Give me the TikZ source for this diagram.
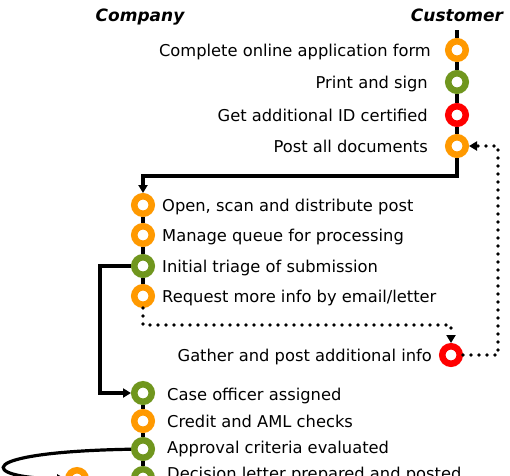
\documentclass[tikz,border=0pt]{standalone}
\usepackage{fontspec}
\setmainfont{DejaVu Sans}
\usetikzlibrary{arrows.meta}
\definecolor{stepOrange}{RGB}{255,153,0}
\definecolor{stepGreen}{RGB}{112,150,30}
\definecolor{stepRed}{RGB}{255,0,0}

\begin{document}
\begin{tikzpicture}[x=1pt, y=-1pt, every node/.style={font=\fontsize{16.3}{19}\selectfont},
		ring/.style={circle, draw=#1, fill=white, line width=6.5pt, minimum size=17.5pt, inner sep=0pt, outer sep=3.25pt},
		lbl/.style={inner sep=0pt, text height=12pt, text depth=0pt},
		headtext/.style={inner sep=0pt, anchor=base, font=\fontsize{17}{20}\selectfont\bfseries\itshape},
		flow/.style={line width=3.2pt},
		dotline/.style={line width=3.6pt, line cap=round, dash pattern=on 0pt off 8pt},
		arr/.style={-{Triangle[length=8pt,width=9pt]}}]
			\useasboundingbox (0,0) rectangle (510,475);
			\clip (0,0) rectangle (510,475);

			\node[headtext] (company) at (140,21) {Company};
			\node[headtext] (customer) at (457,21) {Customer};

			\node[ring=stepOrange] (c1) at (457,50) {};
			\node[ring=stepGreen] (c2) at (457,82) {};
			\node[ring=stepRed] (c3) at (457,115) {};
			\node[ring=stepOrange] (c4) at (457,146) {};
			\node[lbl, anchor=east] (t1) at (431,50) {Complete online application form};
			\node[lbl, anchor=east] (t2) at (428,82) {Print and sign};
			\node[lbl, anchor=east] (t3) at (428,115) {Get additional ID certified};
			\node[lbl, anchor=east] (t4) at (428,146) {Post all documents};

			\node[ring=stepOrange] (o1) at (143,205) {};
			\node[ring=stepOrange] (o2) at (143,235) {};
			\node[ring=stepGreen] (o3) at (143,266) {};
			\node[ring=stepOrange] (o4) at (143,296) {};
			\node[lbl, anchor=west] (s1) at (162,205) {Open, scan and distribute post};
			\node[lbl, anchor=west] (s2) at (162,235) {Manage queue for processing};
			\node[lbl, anchor=west] (s3) at (162,266) {Initial triage of submission};
			\node[lbl, anchor=west] (s4) at (162,296) {Request more info by email/letter};

			\node[ring=stepRed] (gather) at (451,355) {};
			\node[lbl, anchor=east] (tg) at (432,355) {Gather and post additional info};

			\node[ring=stepGreen] (b1) at (143,393) {};
			\node[ring=stepOrange] (b2) at (143,421) {};
			\node[ring=stepGreen] (b3) at (143,449) {};
			\node[ring=stepGreen] (b4) at (143,478) {};
			\node[ring=stepOrange] (side) at (77,479) {};
			\node[lbl, anchor=west] (u1) at (167,394) {Case officer assigned};
			\node[lbl, anchor=west] (u2) at (167,421) {Credit and AML checks};
			\node[lbl, anchor=west] (u3) at (167,447) {Approval criteria evaluated};
			\node[lbl, anchor=west] (u4) at (167,473) {Decision letter prepared and posted};

			\coordinate (ctop) at (457,30);
			\coordinate (cturn) at (457,176);
			\coordinate (oturn) at (143,176);
			\coordinate (tl) at (100,266);
			\coordinate (bl) at (100,393);
			\coordinate (d1) at (143,325);
			\coordinate (d2) at (451,325);
			\coordinate (d3) at (498,355);
			\coordinate (d4) at (498,146);

			\draw[flow] (ctop)--(c1);
			\draw[flow] (c1)--(c2);
			\draw[flow] (c2)--(c3);
			\draw[flow] (c3)--(c4);
			\draw[flow, arr] (c4)--(cturn)--(oturn)--(o1);
			\draw[flow] (o1)--(o2);
			\draw[flow] (o2)--(o3);
			\draw[flow] (o3)--(o4);
			\draw[flow, arr] (o3)--(tl)--(bl)--(b1);
			\draw[dotline, arr] (o4)--(d1)--(d2)--(gather);
			\draw[dotline, arr] (gather)--(d3)--(d4)--(c4);
			\draw[flow] (b1)--(b2);
			\draw[flow] (b2)--(b3);
			\draw[flow] (b3)--(b4);
			\draw[flow, arr] (b3) .. controls (-30,452) and (-20,478) .. (side);

		\end{tikzpicture}
\end{document}
